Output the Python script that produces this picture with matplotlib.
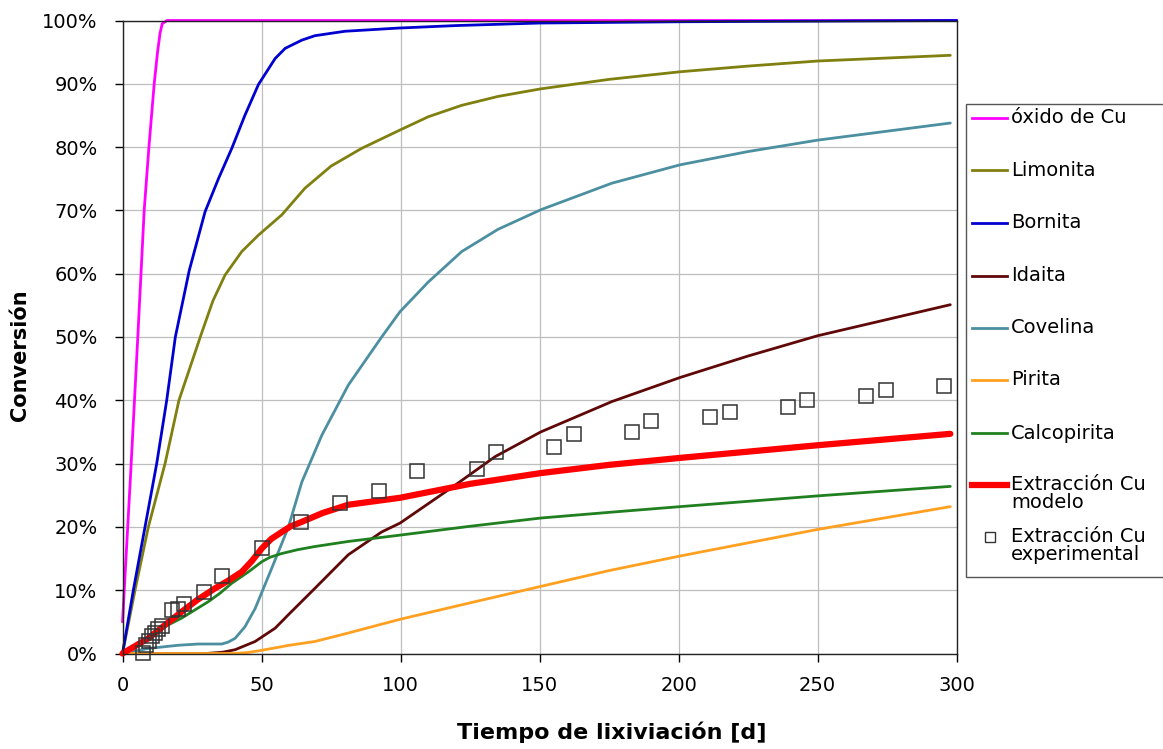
import matplotlib
matplotlib.use("Agg")
import matplotlib.pyplot as plt
from matplotlib.lines import Line2D
from matplotlib.patches import Rectangle

# curvas de conversión por mineral (tiempo [d], conversión [%])
oxido_t = [0, 3, 5.5, 7.8, 9.5, 11.4, 12.6, 13.5, 14.3, 16, 20, 300]
oxido_c = [5, 29, 50, 70, 80, 90, 95, 98, 99.5, 100, 100, 100]

limonita_t = [0, 4.5, 9.3, 15.3, 20.3, 28.2, 32.5, 36.9, 42.9, 48.9, 57.3, 65.6, 75, 86,
              99.8, 110, 122, 135, 150.4, 175, 200.5, 225, 250, 297.7]
limonita_c = [0, 10, 20, 30, 40, 50.3, 55.7, 59.8, 63.5, 66.1, 69.3, 73.5, 77, 79.8,
              82.7, 84.8, 86.6, 88, 89.2, 90.7, 91.9, 92.8, 93.6, 94.5]

bornita_t = [0, 3.9, 8.1, 12.3, 15.9, 19, 24, 29.7, 34.5, 39.3, 44, 48.9, 54.9, 58.5,
             64.5, 69.2, 80, 99, 120, 150, 200, 300]
bornita_c = [0, 10, 20, 30, 40, 50, 60.5, 69.8, 75, 79.8, 85, 89.9, 94, 95.6,
             96.9, 97.6, 98.3, 98.8, 99.2, 99.6, 99.8, 100]

idaita_t = [0, 30, 36, 40.5, 47.7, 54.9, 59.6, 69.2, 81.2, 93.2, 99.8, 119, 134, 150.4,
            176, 200.5, 225, 250, 297.7]
idaita_c = [0, 0, 0.2, 0.6, 1.9, 4.0, 6.1, 10.3, 15.6, 19.2, 20.6, 26.4, 31.1, 35.0,
            39.8, 43.6, 47, 50.2, 55.1]

covelina_t = [0, 9.3, 20, 27.3, 35.7, 38, 40.5, 44, 47.7, 53.7, 59.6, 64.5, 71.7, 81.2,
              93.2, 99.8, 110, 122, 135, 150.4, 176, 200.5, 225, 250, 297.7]
covelina_c = [0, 0.8, 1.3, 1.5, 1.5, 1.8, 2.4, 4.2, 7.1, 13.5, 19.9, 27.1, 34.5, 42.4,
              50, 54, 58.7, 63.5, 67, 70.1, 74.3, 77.2, 79.3, 81.1, 83.8]

pirita_t = [0, 40, 45, 50, 55, 60, 69.2, 80, 99.8, 125, 150.4, 175, 200.5, 250, 297.7]
pirita_c = [0, 0, 0.15, 0.5, 0.9, 1.3, 1.9, 3.1, 5.4, 8.0, 10.6, 13.1, 15.4, 19.6, 23.2]

calco_t = [0, 6.9, 14.1, 21.3, 30.9, 35, 39.3, 45.3, 50.1, 53, 57.3, 63, 69.2, 81.2,
           99.8, 125, 150.4, 175, 200.5, 250, 297.7]
calco_c = [0, 1.9, 4.0, 5.6, 8.2, 9.5, 11.1, 12.9, 14.5, 15.2, 15.8, 16.4, 16.9, 17.7,
           18.7, 20.1, 21.4, 22.3, 23.2, 24.9, 26.4]

modelo_t = [0, 9.3, 15, 21.3, 27, 33.3, 38, 42.9, 46.5, 50.1, 53.5, 57.3, 60.5, 64.5,
            72, 81.2, 99.8, 125, 150.4, 175, 200.5, 250, 297.7]
modelo_c = [0, 2.4, 4.4, 6.6, 8.5, 10.3, 11.5, 12.9, 14.6, 16.6, 18.1, 19.2, 20.1, 20.8,
            22.2, 23.5, 24.6, 26.8, 28.5, 29.8, 30.9, 32.9, 34.7]

# datos experimentales de extracción de Cu
exp_t = [7.2, 8.5, 9.4, 10.5, 11.6, 12.6, 14.1, 17.9, 19.9, 22.2, 29.2, 35.9, 50.1,
         64.1, 78.2, 92.3, 106.0, 127.4, 134.2, 155.2, 162.4, 183.4, 190.2, 211.2,
         218.4, 239.4, 246.2, 267.4, 274.4, 295.4]
exp_c = [0.1, 1.3, 2.0, 2.7, 3.3, 3.8, 4.4, 6.8, 7.0, 7.8, 9.7, 12.2, 16.7,
         20.8, 23.8, 25.7, 28.9, 29.2, 31.9, 32.7, 34.6, 35.0, 36.7, 37.3,
         38.2, 38.9, 40.0, 40.7, 41.7, 42.3]

x_ticks = [0, 50, 100, 150, 200, 250, 300]
y_ticks = [0, 10, 20, 30, 40, 50, 60, 70, 80, 90, 100]

series = [
    ("óxido de Cu", oxido_t, oxido_c, "#FF00FF", 2.0),
    ("Limonita", limonita_t, limonita_c, "#808010", 2.0),
    ("Bornita", bornita_t, bornita_c, "#0000D0", 2.0),
    ("Idaita", idaita_t, idaita_c, "#600808", 2.0),
    ("Covelina", covelina_t, covelina_c, "#4B8FA0", 2.0),
    ("Pirita", pirita_t, pirita_c, "#FFA020", 2.0),
    ("Calcopirita", calco_t, calco_c, "#208020", 2.0),
    ("Extracción Cu\nmodelo", modelo_t, modelo_c, "#FF0000", 4.5),
]

W, H = 1163, 749
fig = plt.figure(figsize=(W / 100, H / 100), dpi=100)
ax = fig.add_axes([122.5 / W, 1 - 653.5 / H, (956.7 - 122.5) / W, (653.5 - 20.5) / H])

for label, t, c, color, lw in series:
    ax.plot(t, c, color=color, lw=lw, solid_capstyle="round", solid_joinstyle="round",
            clip_on=False)

ax.plot(exp_t, exp_c, ls="none", marker="s", ms=9.5, mfc="none", mec="#333333",
        mew=1.1, clip_on=False, zorder=5)

ax.set_xlim(0, 300)
ax.set_ylim(0, 100)
ax.set_xticks(x_ticks)
ax.set_yticks(y_ticks)
ax.set_yticklabels([f"{v}%" for v in y_ticks])
ax.tick_params(axis="both", direction="out", length=6, width=1, labelsize=14)
ax.tick_params(axis="y", pad=12)
ax.tick_params(axis="x", pad=10)
ax.grid(True, color="#BEBEBE", lw=0.9)
ax.set_axisbelow(True)
for side in ["left", "bottom", "right", "top"]:
    ax.spines[side].set_color("#222222")
    ax.spines[side].set_linewidth(1.0)

fig.text(612 / W, 1 - 732 / H, "Tiempo de lixiviación [d]", fontsize=16,
         fontweight="bold", ha="center", va="center")
fig.text(20 / W, 1 - 355 / H, "Conversión", fontsize=15, fontweight="bold",
         rotation=90, ha="center", va="center")

# leyenda dibujada a mano en coordenadas de figura
def fx(px):
    return px / W


def fy(py):
    return 1 - py / H


fig.add_artist(Rectangle((fx(966), fy(577)), fx(1200) - fx(966), fy(104) - fy(577),
                         transform=fig.transFigure, fill=True, facecolor="white",
                         edgecolor="#555555", lw=1.0))
entry_y = [117.5, 170, 223, 275.5, 328, 379.5, 433, 485]
for (label, t, c, color, lw), yy in zip(series, entry_y):
    fig.add_artist(Line2D([fx(972), fx(1007)], [fy(yy), fy(yy)], color=color, lw=lw,
                          transform=fig.transFigure))
    for k, line in enumerate(label.split("\n")):
        fig.text(fx(1011), fy(yy + 17 * k), line, fontsize=14, ha="left", va="center")

fig.add_artist(Line2D([fx(990)], [fy(537)], ls="none", marker="s", ms=7.5, mfc="none",
                      mec="#333333", mew=1.0, transform=fig.transFigure))
fig.text(fx(1011), fy(537), "Extracción Cu", fontsize=14, ha="left", va="center")
fig.text(fx(1011), fy(554), "experimental", fontsize=14, ha="left", va="center")

fig.savefig("out.png", dpi=100)
